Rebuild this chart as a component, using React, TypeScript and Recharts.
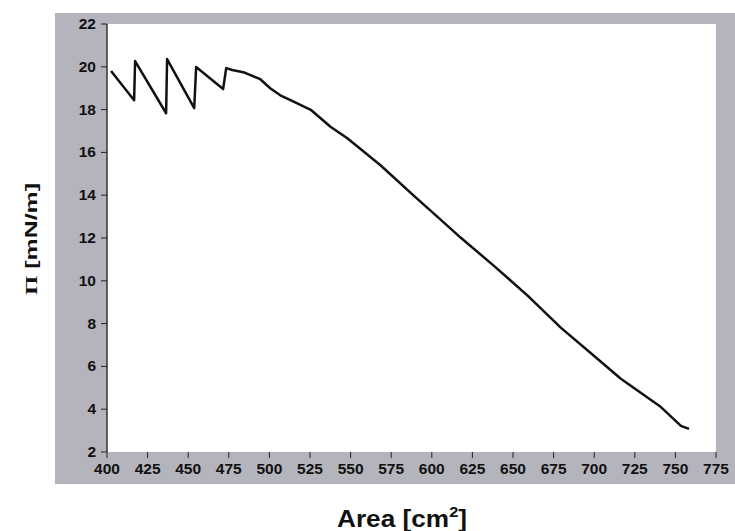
import * as React from "react";
import { CartesianGrid, Line, LineChart, XAxis, YAxis } from "recharts";

// surface pressure isotherm
const AREA = [
  402.5, 416.7, 417.3, 436.4, 437.0, 453.7, 454.9, 471.5, 473.4, 477.1, 483.9,
  494.4, 500.5, 506.7, 513.0, 525.8, 537.6, 548.0, 568.4, 588.7, 611.6, 617.7,
  638.1, 659.0, 679.4, 699.8, 716.4, 741.1, 753.4, 758.4,
];
const PRESSURE = [
  19.8, 18.44, 20.27, 17.83, 20.36, 18.07, 19.99, 18.96, 19.94, 19.85, 19.75,
  19.42, 19.0, 18.67, 18.44, 17.97, 17.2, 16.66, 15.4, 13.99, 12.44, 12.02,
  10.71, 9.31, 7.81, 6.5, 5.42, 4.1, 3.22, 3.08,
];
const X_TICKS = [
  400, 425, 450, 475, 500, 525, 550, 575, 600, 625, 650, 675, 700, 725, 750, 775,
];
const Y_TICKS = [2, 4, 6, 8, 10, 12, 14, 16, 18, 20, 22];

const data = AREA.map((a, i) => ({ area: a, pi: PRESSURE[i] }));

const FONT = "'Liberation Sans', Arial, sans-serif";

function XTick(props: any) {
  const { x, y, payload } = props;
  return (
    <text
      x={x}
      y={y + 11}
      textAnchor="middle"
      fontSize={15.5}
      fontWeight={700}
      fontFamily={FONT}
      fill="#111"
    >
      {payload.value}
    </text>
  );
}

function YTick(props: any) {
  const { x, y, payload } = props;
  return (
    <text
      x={x}
      y={y + 5}
      textAnchor="end"
      fontSize={15.5}
      fontWeight={700}
      fontFamily={FONT}
      fill="#111"
    >
      {payload.value}
    </text>
  );
}

export default function App() {
  return (
    <div
      style={{
        position: "absolute",
        left: 0,
        top: 0,
        width: 735,
        height: 531,
        background: "#fff",
      }}
    >
      <div
        style={{
          position: "absolute",
          left: 55,
          top: 13,
          width: 680,
          height: 471,
          background: "#b4b4bc",
        }}
      />
      <div style={{ position: "absolute", left: 0, top: 0 }}>
        <LineChart
          width={735}
          height={531}
          data={data}
          margin={{ top: 24, right: 19, bottom: 49, left: 47 }}
        >
          <CartesianGrid horizontal={false} vertical={false} fill="#fff" />
          <XAxis
            dataKey="area"
            type="number"
            domain={[400, 775]}
            ticks={X_TICKS}
            interval={0}
            height={30}
            axisLine={false}
            tickSize={6}
            tickMargin={5}
            tickLine={{ stroke: "#222" }}
            tick={<XTick />}
          />
          <XAxis
            xAxisId="top"
            orientation="top"
            dataKey="area"
            type="number"
            domain={[400, 775]}
            height={0}
            tick={false}
            tickLine={false}
            axisLine={{ stroke: "#333", strokeWidth: 1.5 }}
          />
          <YAxis
            type="number"
            domain={[2, 22]}
            ticks={Y_TICKS}
            interval={0}
            width={60}
            tickSize={6}
            tickMargin={5}
            axisLine={{ stroke: "#333", strokeWidth: 1.5 }}
            tickLine={{ stroke: "#222" }}
            tick={<YTick />}
          />
          <Line
            dataKey="pi"
            type="linear"
            stroke="#111"
            strokeWidth={2.5}
            strokeLinejoin="round"
            dot={false}
            isAnimationActive={false}
          />
        </LineChart>
      </div>
      <svg
        width={735}
        height={531}
        style={{ position: "absolute", left: 0, top: 0 }}
      >
        <text
          x={37}
          y={239}
          transform="rotate(-90, 37, 239)"
          textAnchor="middle"
          fontSize={17}
          fontWeight={700}
          fontFamily={FONT}
          fill="#111"
          textLength={112}
          lengthAdjust="spacingAndGlyphs"
        >
          <tspan fontFamily="'Liberation Serif', serif">Π</tspan> [mN/m]
        </text>
        <text
          x={402}
          y={527}
          textAnchor="middle"
          fontSize={24}
          fontWeight={700}
          fontFamily={FONT}
          fill="#111"
          textLength={130}
          lengthAdjust="spacingAndGlyphs"
        >
          Area [cm
          <tspan fontSize={15} dy={-10}>
            2
          </tspan>
          <tspan dy={10}>]</tspan>
        </text>
      </svg>
    </div>
  );
}
